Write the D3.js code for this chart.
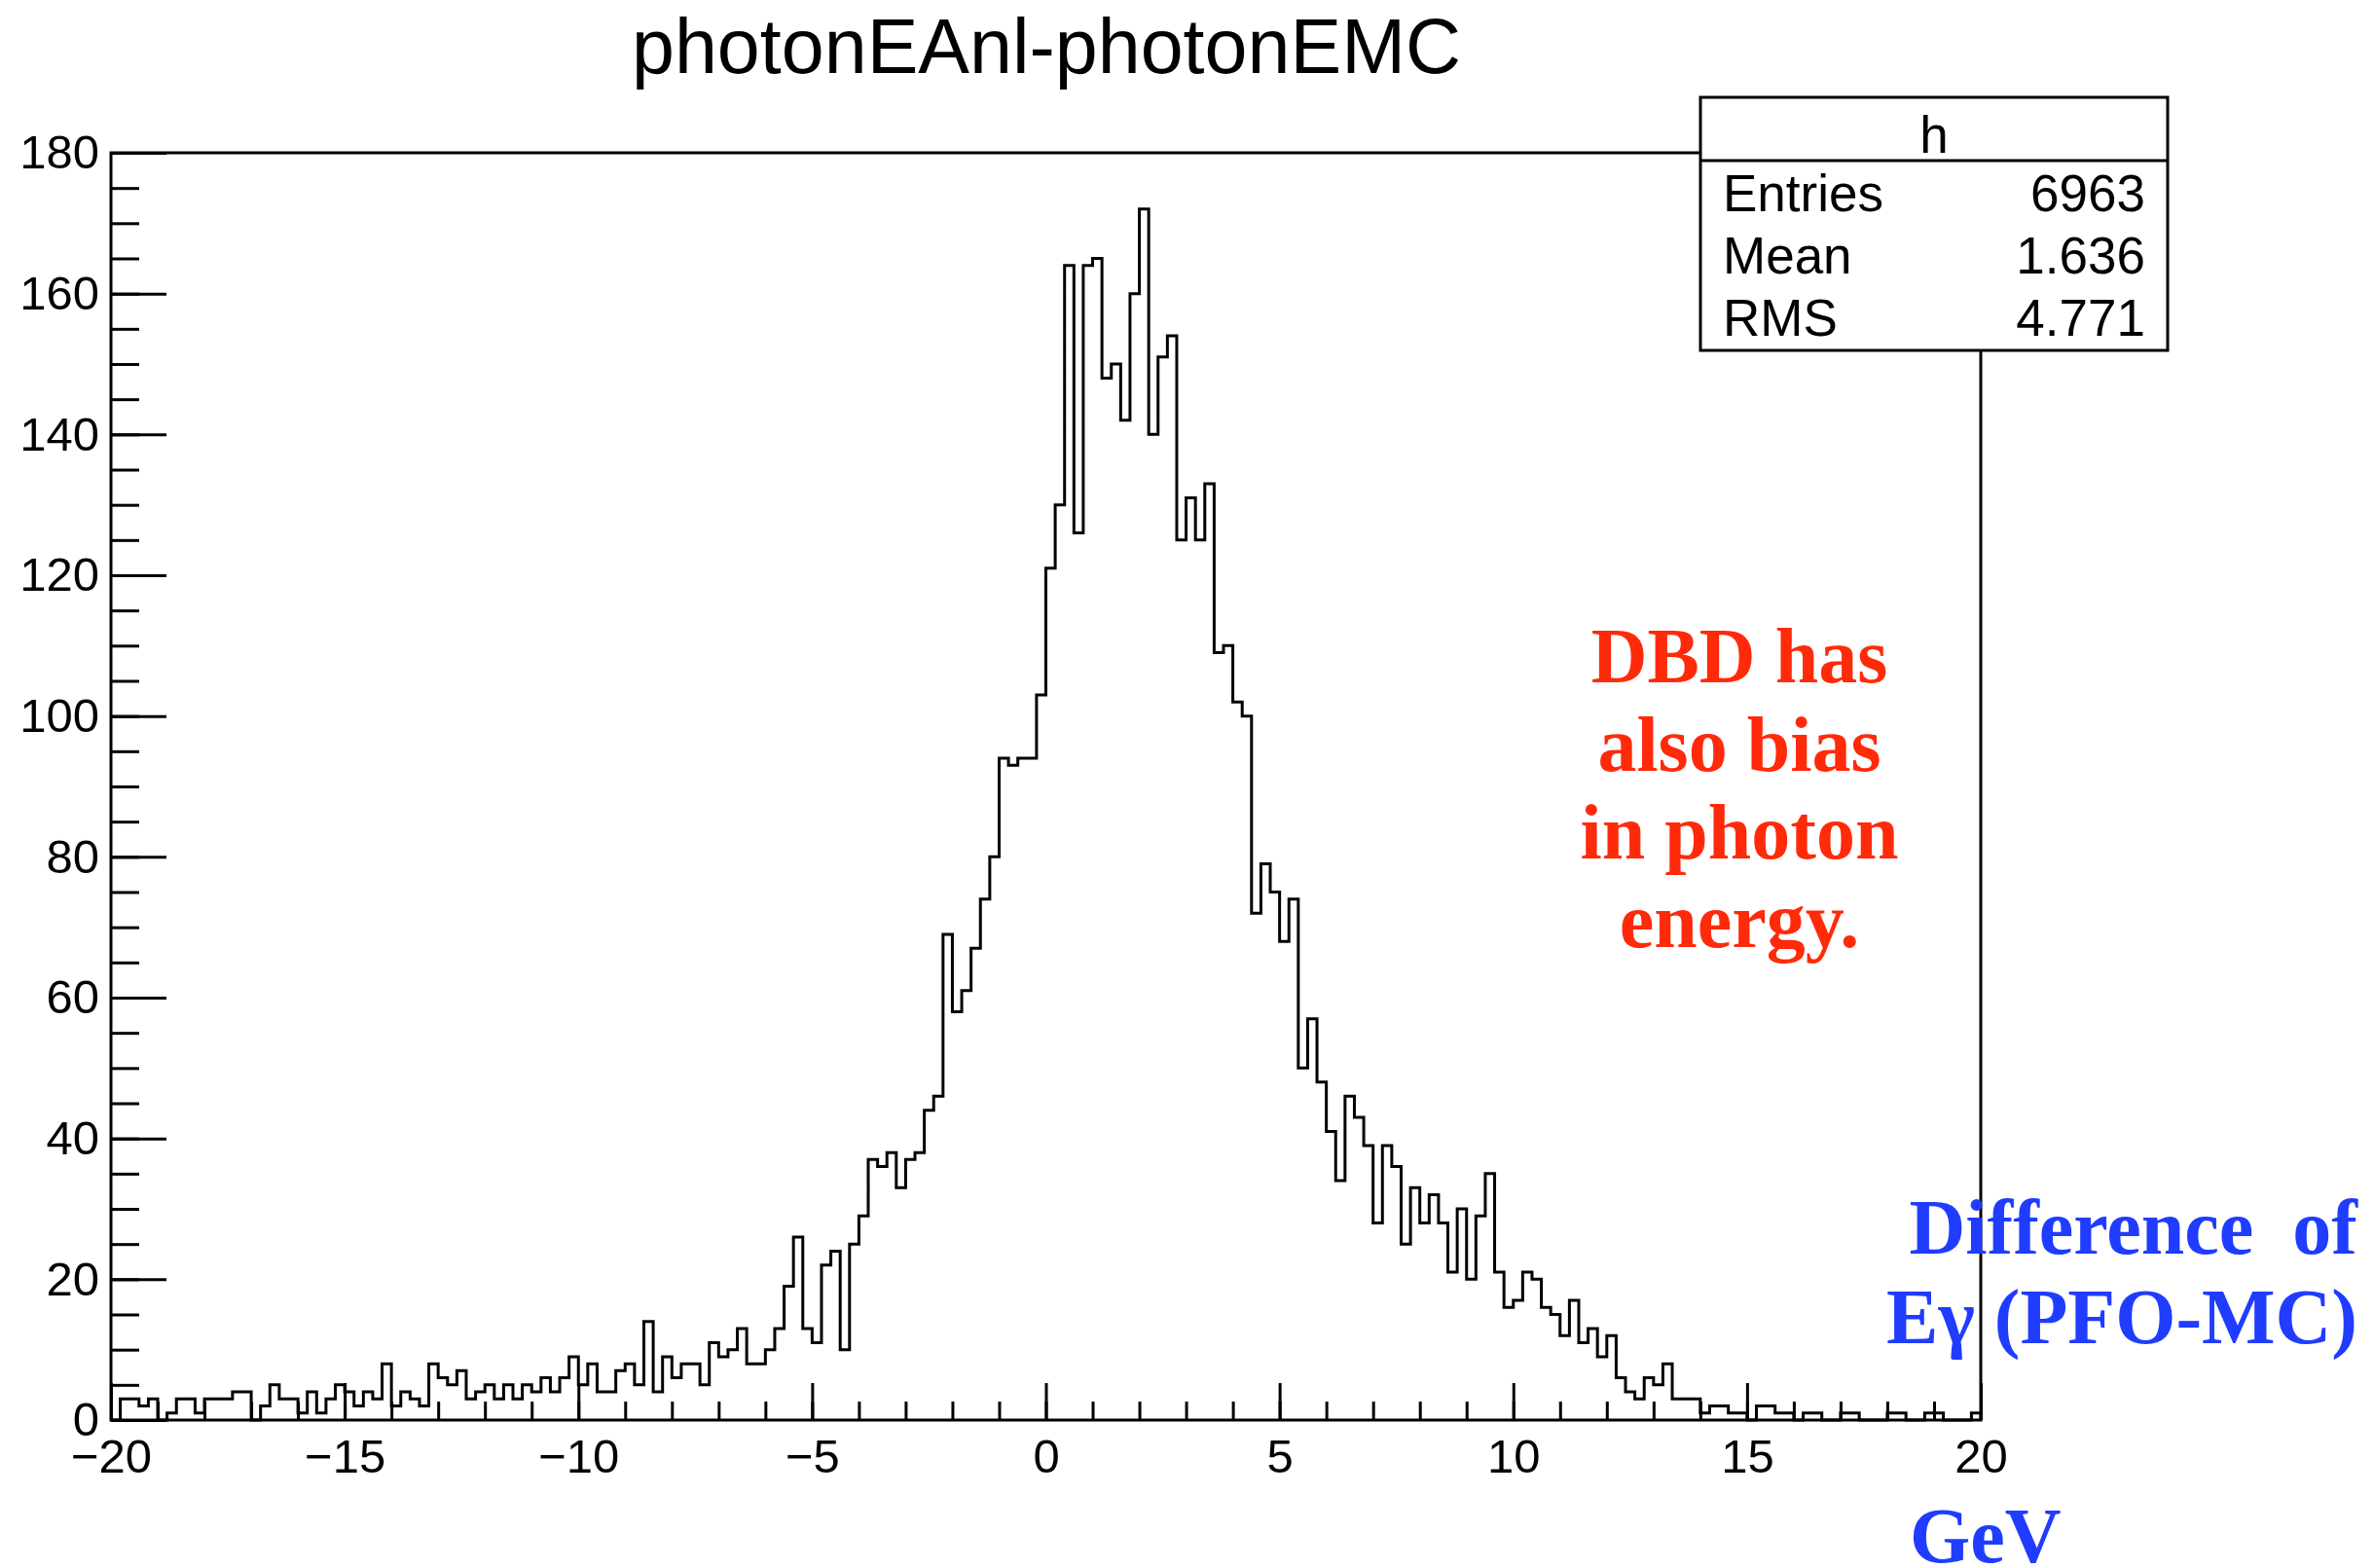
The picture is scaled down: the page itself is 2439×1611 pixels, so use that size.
<!DOCTYPE html>
<html>
<head>
<meta charset="utf-8">
<script src="https://cdn.jsdelivr.net/npm/d3@7"></script>
<style>
  body { margin: 0; background: #fff; }
  text { font-family: "Liberation Sans", Arial, sans-serif; }
  .note { font-family: "Liberation Serif", "Times New Roman", serif; font-weight: bold; white-space: pre; }
</style>
</head>
<body>
<div id="viz"></div>
<script>
const width = 2439;
const height = 1611;
const margin = { top: 157, right: 404, bottom: 152, left: 114 };

// histogram "h": 200 bins from -20 to 20 GeV
const xMin = -20, xMax = 20;
const counts = [
  0,3,3,2,3,0,1,3,3,1, 3,3,3,4,4,0,2,5,3,3, 1,4,1,3,5,4,2,4,3,8, 2,4,3,
  2,8,6,5,7,3,4,5,3,5, 3,5,4,6,4,6,9,5,8,4, 4,7,8,5,14,4,9,6,8,8, 5,11,9,
  10,13,8,8,10,13,19,26,13,11,22,24,10,25,29,
  37,36,38,33,37,38,44,46,69,58,61,67,74,80,94,93,94,94,
  103,121,130,164,126,164,165,148,150,142,160,172,140,151,154,125,131,125,133,109,110,102,100,
  72,79,75,68,74,50,57,48,41,34,46,43,39,28,39,
  36,25,33,28,32,28,21,30,20,29,35,21,16,17,
  21,20,16,15,12,17,11,13,9,12,6,4,3,6,5,8,3,3,3,
  1,2,2,1,1,0,2,2,1,1, 0,1,1,0,0,1,1,0,0,0, 1,1,0,0,1,1,0,0,0,1
];
const xMajor = [-20, -15, -10, -5, 0, 5, 10, 15, 20];
const xMinor = d3.range(-20, 21, 1);
const yMajor = [0, 20, 40, 60, 80, 100, 120, 140, 160, 180];
const yMinor = d3.range(0, 181, 5);

const title = "photonEAnl-photonEMC";
const statName = "h";
const statRows = [["Entries", "6963"], ["Mean", "1.636"], ["RMS", "4.771"]];
const redNote = ["DBD has", "also bias", "in photon", "energy."];
const blueNote = ["Difference  of", "Eγ (PFO-MC)"];

const svg = d3.select("#viz").append("svg")
  .attr("width", width)
  .attr("height", height);

svg.append("rect").attr("width", width).attr("height", height).attr("fill", "#fff");

const xScale = d3.scaleLinear().domain([xMin, xMax]).range([margin.left, width - margin.right]);
const yScale = d3.scaleLinear().domain([0, 180]).range([height - margin.bottom, margin.top]);
const binW = (xMax - xMin) / counts.length;

// axes, ticks pointing into the frame
const bottom = height - margin.bottom;
svg.append("g")
  .attr("transform", `translate(0,${bottom})`)
  .call(d3.axisBottom(xScale).tickValues(xMinor).tickSizeInner(-19).tickSizeOuter(0).tickFormat(""));
svg.append("g")
  .attr("class", "xmaj")
  .attr("transform", `translate(0,${bottom})`)
  .call(d3.axisBottom(xScale).tickValues(xMajor).tickSizeInner(-38).tickSizeOuter(0).tickPadding(19).tickFormat(d3.format("d")));
svg.append("g")
  .attr("transform", `translate(${margin.left},0)`)
  .call(d3.axisLeft(yScale).tickValues(yMinor).tickSizeInner(-29).tickSizeOuter(0).tickFormat(""));
svg.append("g")
  .attr("class", "ymaj")
  .attr("transform", `translate(${margin.left},0)`)
  .call(d3.axisLeft(yScale).tickValues(yMajor).tickSizeInner(-57).tickSizeOuter(0).tickPadding(12).tickFormat(d3.format("d")));

svg.selectAll(".domain").remove();
svg.selectAll(".tick line").attr("stroke", "#000").attr("stroke-width", 3);
svg.selectAll(".xmaj text, .ymaj text").attr("font-size", 49).attr("fill", "#000")
  .attr("font-family", "Liberation Sans, Arial, sans-serif");

// frame
svg.append("rect")
  .attr("x", xScale(xMin)).attr("y", yScale(180))
  .attr("width", xScale(xMax) - xScale(xMin))
  .attr("height", yScale(0) - yScale(180))
  .attr("fill", "none").attr("stroke", "#000").attr("stroke-width", 3);

// histogram outline
const pts = [[xMin, 0]];
counts.forEach((c, i) => {
  pts.push([xMin + i * binW, c]);
  pts.push([xMin + (i + 1) * binW, c]);
});
pts.push([xMax, 0]);
svg.append("path")
  .attr("d", d3.line().x(d => xScale(d[0])).y(d => yScale(d[1]))(pts))
  .attr("fill", "none").attr("stroke", "#000").attr("stroke-width", 3)
  .attr("stroke-linejoin", "miter");

// title
svg.append("text")
  .attr("x", 1075).attr("y", 75)
  .attr("text-anchor", "middle").attr("font-size", 79)
  .text(title);

// stat box
const box = svg.append("g");
box.append("rect").attr("x", 1747).attr("y", 100).attr("width", 480).attr("height", 260)
  .attr("fill", "#fff").attr("stroke", "#000").attr("stroke-width", 3);
box.append("line").attr("x1", 1747).attr("x2", 2227).attr("y1", 165).attr("y2", 165)
  .attr("stroke", "#000").attr("stroke-width", 3);
box.append("text").attr("x", 1987).attr("y", 157).attr("text-anchor", "middle")
  .attr("font-size", 53).text(statName);
statRows.forEach((r, i) => {
  const y = 217 + i * 64;
  box.append("text").attr("x", 1770).attr("y", y).attr("font-size", 53).text(r[0]);
  box.append("text").attr("x", 2204).attr("y", y).attr("font-size", 53)
    .attr("text-anchor", "end").text(r[1]);
});

// annotations
redNote.forEach((t, i) => {
  svg.append("text").attr("class", "note")
    .attr("x", 1787).attr("y", 701 + i * 90.5)
    .attr("text-anchor", "middle").attr("font-size", 80)
    .attr("fill", "#ff2a0a").text(t);
});
blueNote.forEach((t, i) => {
  svg.append("text").attr("class", "note")
    .attr("x", 2422).attr("y", 1288 + i * 92)
    .attr("text-anchor", "end").attr("font-size", 80)
    .attr("fill", "#1f3cff").text(t);
});
svg.append("text").attr("class", "note")
  .attr("x", 1962).attr("y", 1605)
  .attr("font-size", 80).attr("fill", "#1f3cff").text("GeV");
</script>
</body>
</html>
